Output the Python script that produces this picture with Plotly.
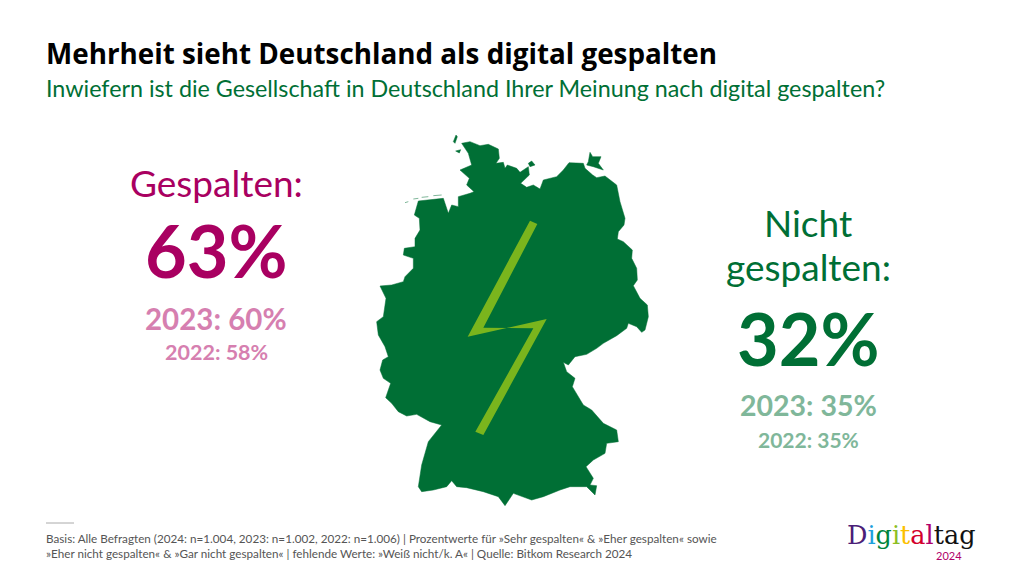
"""Mehrheit sieht Deutschland als digital gespalten - Bitkom 2024"""
import plotly.graph_objects as go

FONT = "Lato"
DARK_GREEN = "#006F35"
LIGHT_GREEN = "#80B79A"
DARK_RED = "#A90061"
LIGHT_RED = "#D67FB0"

years = [2024, 2023, 2022]
gespalten = [63, 60, 58]
nicht_gespalten = [32, 35, 35]

# outline of Germany
map_x = [275, 300, 330, 355, 385, 388, 378, 400, 405, 412, 440, 450, 475, 478, 452, 470, 490, 510, 520, 560,
         580, 597, 640, 645, 668, 680, 705, 740, 750, 765, 762, 745, 742, 760, 787, 785, 800, 802, 790, 810,
         832, 835, 825, 815, 800, 775, 770, 740, 700, 680, 650, 615, 595, 580, 590, 615, 607, 625, 640, 665,
         700, 740, 745, 710, 705, 670, 648, 670, 660, 680, 675, 650, 600, 570, 520, 485, 430, 405, 385, 340,
         290, 260, 245, 230, 190, 155, 145, 155, 175, 215, 180, 140, 110, 85, 65, 47, 62, 40, 30, 38,
         55, 45, 25, 20, 40, 48, 30, 65, 100, 105, 130, 130, 100, 103, 135, 135, 150, 148, 133, 145,
         220, 235, 245, 265, 265, 300, 312, 290, 298, 270, 305, 295, 275]
map_y = [55, 50, 62, 58, 72, 100, 115, 112, 130, 120, 130, 142, 125, 150, 175, 187, 180, 192, 165, 155,
         135, 113, 115, 130, 150, 158, 153, 180, 230, 280, 300, 320, 342, 350, 375, 400, 430, 465, 482, 520,
         540, 575, 615, 622, 605, 595, 610, 632, 655, 670, 688, 695, 720, 712, 740, 760, 785, 815, 840, 855,
         895, 915, 950, 955, 985, 1005, 1025, 1060, 1080, 1082, 1110, 1085, 1085, 1095, 1115, 1125, 1105, 1142, 1115, 1100,
         1088, 1085, 1067, 1085, 1095, 1100, 1085, 1020, 950, 900, 890, 868, 873, 860, 835, 818, 775, 760, 735, 705,
         695, 665, 630, 590, 575, 520, 483, 480, 470, 455, 430, 400, 390, 370, 365, 340, 315, 280, 270, 228,
         220, 265, 240, 245, 215, 205, 200, 180, 160, 135, 120, 85, 55]

# islands, separated by None
island_x = [655, 660, 668, 693, 685, 700, 670, 650, 655, None, 475, 485, 495, 480, 475, None,
            250, 258, 262, 255, 250, None, 257, 272, 268, 257]
island_y = [110, 82, 95, 95, 115, 135, 125, 120, 110, None, 115, 108, 120, 125, 115, None,
            50, 30, 35, 55, 50, None, 78, 74, 84, 78]

# East Frisian islands, thin and pale
frisian_x = [105, 115, None, 130, 145, None, 155, 175, None, 190, 215]
frisian_y = [233, 230, None, 222, 220, None, 217, 215, None, 212, 210]

bolt_x = [480, 293, 530, 340, 316, 490, 340, 502, 480]
bolt_y = [287, 635, 582, 930, 920, 610, 608, 297, 287]

logo_letters = ["D", "i", "g", "i", "t", "a", "l", "t", "a", "g"]
logo_colors = ["#4B1E78", "#1EA0DC", "#00843D", "#8CBE23", "#FCC000", "#D4002A", "#B0006A", "#111111", "#111111", "#111111"]

fig = go.Figure()
fig.add_trace(go.Scatter(x=map_x, y=map_y, mode="lines", fill="toself", fillcolor=DARK_GREEN,
                         line=dict(color=DARK_GREEN, width=0.5), hoverinfo="skip"))
fig.add_trace(go.Scatter(x=island_x, y=island_y, mode="lines", fill="toself", fillcolor=DARK_GREEN,
                         line=dict(color=DARK_GREEN, width=0.5), hoverinfo="skip"))
fig.add_trace(go.Scatter(x=frisian_x, y=frisian_y, mode="lines",
                         line=dict(color=LIGHT_GREEN, width=1), hoverinfo="skip"))
fig.add_trace(go.Scatter(x=bolt_x, y=bolt_y, mode="lines", fill="toself", fillcolor="#7AB51D",
                         line=dict(width=0), hoverinfo="skip"))


def label(text, x, y, size, color, anchor="center", bold=False, family=FONT):
    if bold:
        text = "<b>" + text + "</b>"
    fig.add_annotation(text=text, x=x / 1024, y=1 - y / 576, xref="paper", yref="paper", showarrow=False,
                       xanchor=anchor, yanchor="middle", align="left" if anchor == "left" else "center",
                       font=dict(family=family, size=size, color=color))


label("Mehrheit sieht Deutschland als digital gespalten", 44, 53, 27.8, "#000000", "left", True, "Open Sans")
label("Inwiefern ist die Gesellschaft in Deutschland Ihrer Meinung nach digital gespalten?", 44, 88, 23.3, DARK_GREEN, "left")

label("Gespalten:", 216, 183, 37, DARK_RED)
label(f"{gespalten[0]}%", 216, 250, 72, DARK_RED, bold=True)
label(f"{years[1]}: {gespalten[1]}%", 216, 318, 29.5, LIGHT_RED, bold=True)
label(f"{years[2]}: {gespalten[2]}%", 216, 352, 21.5, LIGHT_RED, bold=True)

label("Nicht", 808, 222, 37, DARK_GREEN)
label("gespalten:", 808, 266, 37, DARK_GREEN)
label(f"{nicht_gespalten[0]}%", 808, 338, 72, DARK_GREEN, bold=True)
label(f"{years[1]}: {nicht_gespalten[1]}%", 808, 405, 28.5, LIGHT_GREEN, bold=True)
label(f"{years[2]}: {nicht_gespalten[2]}%", 808, 439, 21, LIGHT_GREEN, bold=True)

label("Basis: Alle Befragten (2024: n=1.004, 2023: n=1.002, 2022: n=1.006) | Prozentwerte für »Sehr gespalten« &amp; »Eher gespalten« sowie",
      44, 538, 11.7, "#555555", "left")
label("»Eher nicht gespalten« &amp; »Gar nicht gespalten« | fehlende Werte: »Weiß nicht/k. A« | Quelle: Bitkom Research 2024",
      44, 553, 11.7, "#555555", "left")

logo = "".join(f'<span style="color:{c}">{t}</span>' for t, c in zip(logo_letters, logo_colors))
label(logo, 911, 535, 25.5, "#111111", family="DejaVu Serif")
label("2024", 949, 555, 11, "#B0006A")

# short rule above the footnote
fig.add_shape(type="line", xref="paper", yref="paper", x0=46 / 1024, x1=74 / 1024, y0=1 - 523 / 576, y1=1 - 523 / 576,
              line=dict(color="#AAAAAA", width=1))

fig.update_xaxes(visible=False, range=[-1110, 1962], fixedrange=True)
fig.update_yaxes(visible=False, range=[1353, -375], fixedrange=True)
fig.update_layout(width=1024, height=576, margin=dict(l=0, r=0, t=0, b=0), showlegend=False,
                  paper_bgcolor="white", plot_bgcolor="white")

fig.write_html("out.html", config=dict(displayModeBar=False), post_script="document.body.style.margin='0';")
